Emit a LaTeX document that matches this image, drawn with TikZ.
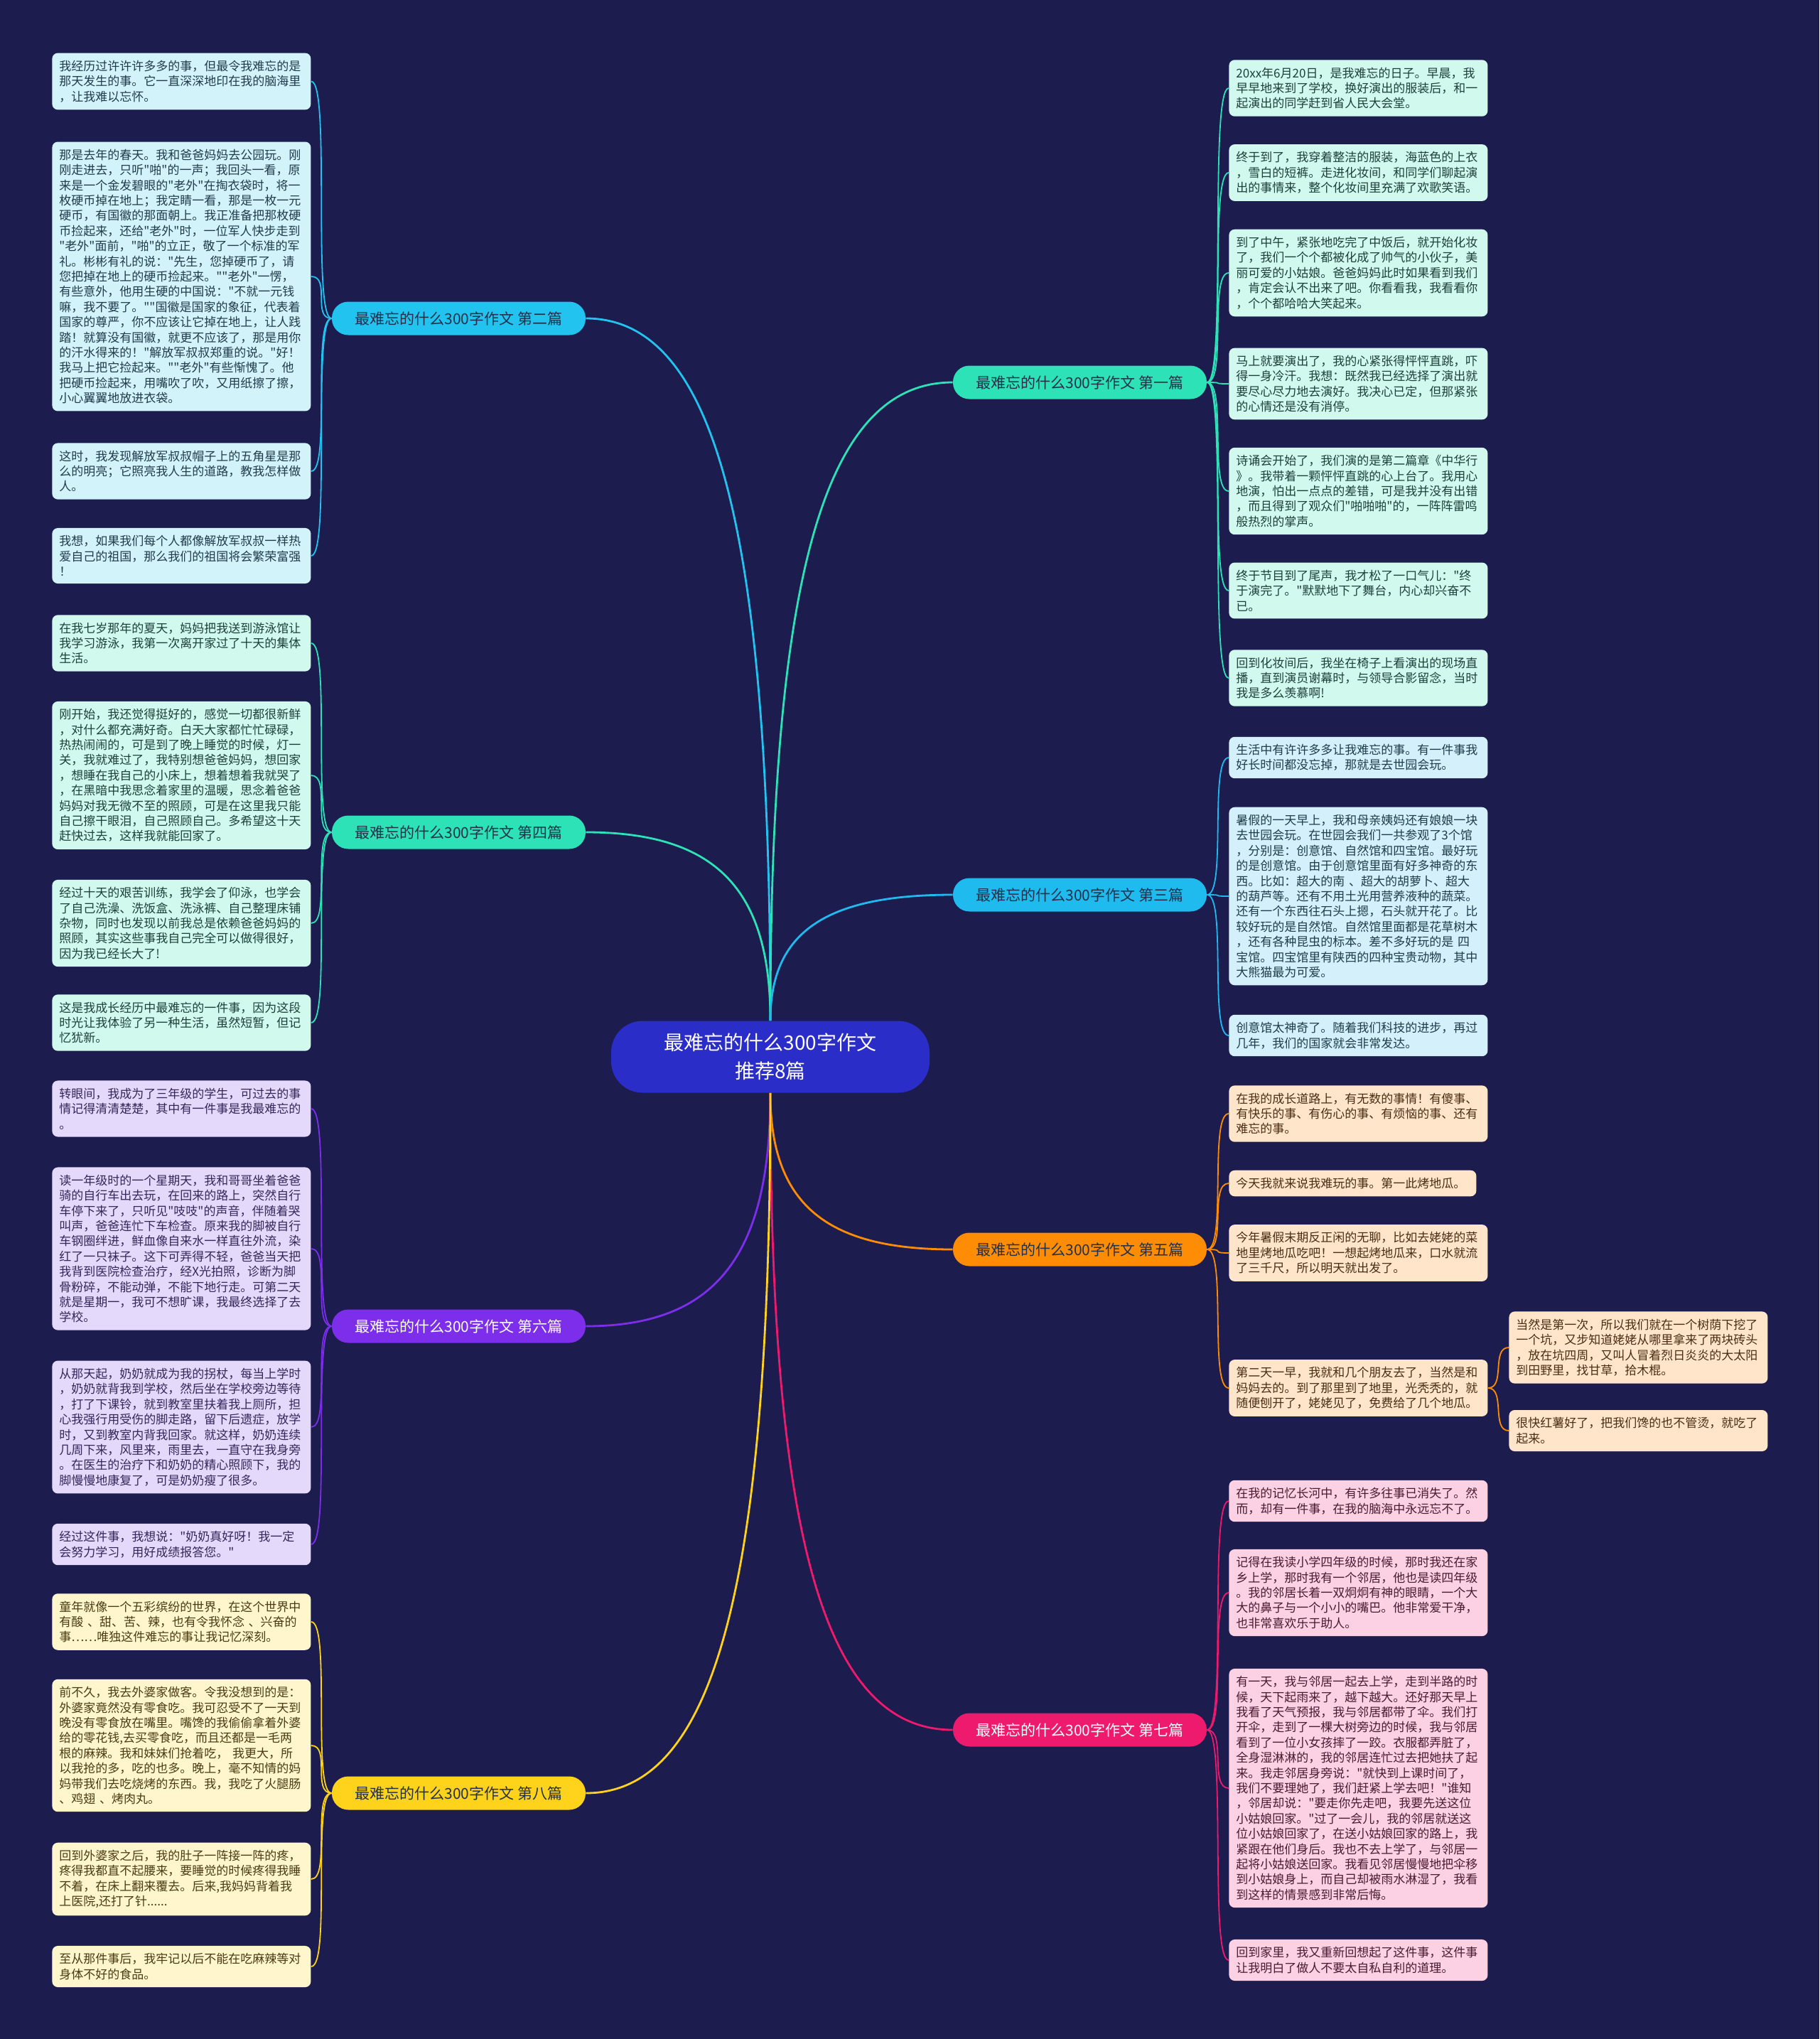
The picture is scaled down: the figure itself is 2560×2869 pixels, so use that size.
\documentclass[tikz,border=0pt]{standalone}
\usepackage{fontspec}
\newfontfamily\cjk{Noto Sans CJK SC}
\definecolor{bg}{HTML}{1C1C4E}
\definecolor{cen}{HTML}{2B2DC8}
\definecolor{cyanA}{HTML}{22C3EE}
\definecolor{cyanL}{HTML}{D3F3FB}
\definecolor{cyanT}{HTML}{1E3C4A}
\definecolor{cyanB}{HTML}{1FBBEF}
\definecolor{cyanBL}{HTML}{D3F0FB}
\definecolor{mintA}{HTML}{2CE2B6}
\definecolor{mintL}{HTML}{D1F9EE}
\definecolor{mintT}{HTML}{1D4038}
\definecolor{purA}{HTML}{7C2EEA}
\definecolor{purL}{HTML}{E4D9FA}
\definecolor{purT}{HTML}{35265A}
\definecolor{yelA}{HTML}{FFD21C}
\definecolor{yelL}{HTML}{FFF6CE}
\definecolor{yelT}{HTML}{4A3C10}
\definecolor{oraA}{HTML}{FF8C05}
\definecolor{oraL}{HTML}{FFE6CB}
\definecolor{oraT}{HTML}{4A2E12}
\definecolor{pinA}{HTML}{EE1A6E}
\definecolor{pinL}{HTML}{FCD1E4}
\definecolor{pinT}{HTML}{4A1A30}
\definecolor{pillT}{HTML}{23304A}
\begin{document}
\begin{tikzpicture}[x=0.5pt,y=-0.5pt,
  leaf/.style={rounded corners=4pt, anchor=west, text width=172pt, inner xsep=5pt, inner ysep=5.2pt, align=left, font=\cjk\fontsize{8.5}{10.7}\selectfont},
  pill/.style={rounded corners=11.5pt, minimum width=178.5pt, minimum height=23.5pt, inner sep=0pt, font=\cjk\fontsize{10.5}{12}\selectfont},
  cnode/.style={fill=cen, text=white, rounded corners=22pt, minimum width=224pt, minimum height=50.5pt, align=center, font=\cjk\fontsize{14}{20}\selectfont},
  lf2/.style={leaf, fill=cyanL, text=cyanT},
  lf3/.style={leaf, fill=cyanBL, text=cyanT},
  lf1/.style={leaf, fill=mintL, text=mintT},
  lf4/.style={leaf, fill=mintL, text=mintT},
  lf6/.style={leaf, fill=purL, text=purT},
  lf8/.style={leaf, fill=yelL, text=yelT},
  lf5/.style={leaf, fill=oraL, text=oraT},
  lf7/.style={leaf, fill=pinL, text=pinT},
  trunk/.style={line width=1.4pt},
  twig/.style={line width=0.9pt}]
\fill[bg] (0,0) rectangle (2560,2869);

\node[cnode] (c) at (1084,1487) {最难忘的什么300字作文\\推荐8篇};

\node[pill, fill=cyanA, text=pillT] (b2) at (645.5,448) {最难忘的什么300字作文 第二篇};
\node[pill, fill=mintA, text=pillT] (b4) at (645.5,1171) {最难忘的什么300字作文 第四篇};
\node[pill, fill=purA, text=white] (b6) at (645.5,1866) {最难忘的什么300字作文 第六篇};
\node[pill, fill=yelA, text=pillT] (b8) at (645.5,2523) {最难忘的什么300字作文 第八篇};
\node[pill, fill=mintA, text=pillT] (b1) at (1519.5,538) {最难忘的什么300字作文 第一篇};
\node[pill, fill=cyanB, text=pillT] (b3) at (1519.5,1259) {最难忘的什么300字作文 第三篇};
\node[pill, fill=oraA, text=pillT] (b5) at (1519.5,1758) {最难忘的什么300字作文 第五篇};
\node[pill, fill=pinA, text=white] (b7) at (1519.5,2434) {最难忘的什么300字作文 第七篇};

% left leaves
\node[lf2] (L1) at (73,114.5) {我经历过许许许多多的事，但最令我难忘的是\\那天发生的事。它一直深深地印在我的脑海里\\，让我难以忘怀。};
\node[lf2] (L2) at (73,389) {那是去年的春天。我和爸爸妈妈去公园玩。刚\\刚走进去，只听"啪"的一声；我回头一看，原\\来是一个金发碧眼的"老外"在掏衣袋时，将一\\枚硬币掉在地上；我定睛一看，那是一枚一元\\硬币，有国徽的那面朝上。我正准备把那枚硬\\币捡起来，还给"老外"时，一位军人快步走到\\"老外"面前，"啪"的立正，敬了一个标准的军\\礼。彬彬有礼的说："先生，您掉硬币了，请\\您把掉在地上的硬币捡起来。""老外"一愣，\\有些意外，他用生硬的中国说："不就一元钱\\嘛，我不要了。""国徽是国家的象征，代表着\\国家的尊严，你不应该让它掉在地上，让人践\\踏！就算没有国徽，就更不应该了，那是用你\\的汗水得来的！"解放军叔叔郑重的说。"好！\\我马上把它捡起来。""老外"有些惭愧了。他\\把硬币捡起来，用嘴吹了吹，又用纸擦了擦，\\小心翼翼地放进衣袋。};
\node[lf2] (L3) at (73,663) {这时，我发现解放军叔叔帽子上的五角星是那\\么的明亮；它照亮我人生的道路，教我怎样做\\人。};
\node[lf2] (L4) at (73,782) {我想，如果我们每个人都像解放军叔叔一样热\\爱自己的祖国，那么我们的祖国将会繁荣富强\\！};

\node[lf4] (L5) at (73,905) {在我七岁那年的夏天，妈妈把我送到游泳馆让\\我学习游泳，我第一次离开家过了十天的集体\\生活。};
\node[lf4] (L6) at (73,1091) {刚开始，我还觉得挺好的，感觉一切都很新鲜\\，对什么都充满好奇。白天大家都忙忙碌碌，\\热热闹闹的，可是到了晚上睡觉的时候，灯一\\关，我就难过了，我特别想爸爸妈妈，想回家\\，想睡在我自己的小床上，想着想着我就哭了\\，在黑暗中我思念着家里的温暖，思念着爸爸\\妈妈对我无微不至的照顾，可是在这里我只能\\自己擦干眼泪，自己照顾自己。多希望这十天\\赶快过去，这样我就能回家了。};
\node[lf4] (L7) at (73,1299) {经过十天的艰苦训练，我学会了仰泳，也学会\\了自己洗澡、洗饭盒、洗泳裤、自己整理床铺\\杂物，同时也发现以前我总是依赖爸爸妈妈的\\照顾，其实这些事我自己完全可以做得很好，\\因为我已经长大了!};
\node[lf4] (L8) at (73,1439) {这是我成长经历中最难忘的一件事，因为这段\\时光让我体验了另一种生活，虽然短暂，但记\\忆犹新。};

\node[lf6] (L9) at (73,1560) {转眼间，我成为了三年级的学生，可过去的事\\情记得清清楚楚，其中有一件事是我最难忘的\\。};
\node[lf6] (L10) at (73,1757) {读一年级时的一个星期天，我和哥哥坐着爸爸\\骑的自行车出去玩，在回来的路上，突然自行\\车停下来了，只听见"吱吱"的声音，伴随着哭\\叫声，爸爸连忙下车检查。原来我的脚被自行\\车钢圈绊进，鲜血像自来水一样直往外流，染\\红了一只袜子。这下可弄得不轻，爸爸当天把\\我背到医院检查治疗，经X光拍照，诊断为脚\\骨粉碎，不能动弹，不能下地行走。可第二天\\就是星期一，我可不想旷课，我最终选择了去\\学校。};
\node[lf6] (L11) at (73,2008) {从那天起，奶奶就成为我的拐杖，每当上学时\\，奶奶就背我到学校，然后坐在学校旁边等待\\，打了下课铃，就到教室里扶着我上厕所，担\\心我强行用受伤的脚走路，留下后遗症，放学\\时，又到教室内背我回家。就这样，奶奶连续\\几周下来，风里来，雨里去，一直守在我身旁\\。在医生的治疗下和奶奶的精心照顾下，我的\\脚慢慢地康复了，可是奶奶瘦了很多。};
\node[lf6] (L12) at (73,2173) {经过这件事，我想说："奶奶真好呀！我一定\\会努力学习，用好成绩报答您。"};

\node[lf8] (L13) at (73,2282) {童年就像一个五彩缤纷的世界，在这个世界中\\有酸~、甜、苦、辣，也有令我怀念~、兴奋的\\事……唯独这件难忘的事让我记忆深刻。};
\node[lf8] (L14) at (73,2456) {前不久，我去外婆家做客。令我没想到的是：\\外婆家竟然没有零食吃。我可忍受不了一天到\\晚没有零食放在嘴里。嘴馋的我偷偷拿着外婆\\给的零花钱,去买零食吃，而且还都是一毛两\\根的麻辣。我和妹妹们抢着吃，~我更大，所\\以我抢的多，吃的也多。晚上，毫不知情的妈\\妈带我们去吃烧烤的东西。我，我吃了火腿肠\\、鸡翅~、烤肉丸。};
\node[lf8] (L15) at (73,2644) {回到外婆家之后，我的肚子一阵接一阵的疼，\\疼得我都直不起腰来，要睡觉的时候疼得我睡\\不着，在床上翻来覆去。后来,我妈妈背着我\\上医院,还打了针......};
\node[lf8] (L16) at (73,2767) {至从那件事后，我牢记以后不能在吃麻辣等对\\身体不好的食品。};

% right leaves
\node[lf1] (R1) at (1729,124) {20xx年6月20日，是我难忘的日子。早晨，我\\早早地来到了学校，换好演出的服装后，和一\\起演出的同学赶到省人民大会堂。};
\node[lf1] (R2) at (1729,243) {终于到了，我穿着整洁的服装，海蓝色的上衣\\，雪白的短裤。走进化妆间，和同学们聊起演\\出的事情来，整个化妆间里充满了欢歌笑语。};
\node[lf1] (R3) at (1729,384) {到了中午，紧张地吃完了中饭后，就开始化妆\\了，我们一个个都被化成了帅气的小伙子，美\\丽可爱的小姑娘。爸爸妈妈此时如果看到我们\\，肯定会认不出来了吧。你看看我，我看看你\\，个个都哈哈大笑起来。};
\node[lf1] (R4) at (1729,540) {马上就要演出了，我的心紧张得怦怦直跳，吓\\得一身冷汗。我想：既然我已经选择了演出就\\要尽心尽力地去演好。我决心已定，但那紧张\\的心情还是没有消停。};
\node[lf1] (R5) at (1729,691) {诗诵会开始了，我们演的是第二篇章《中华行\\》。我带着一颗怦怦直跳的心上台了。我用心\\地演，怕出一点点的差错，可是我并没有出错\\，而且得到了观众们"啪啪啪"的，一阵阵雷鸣\\般热烈的掌声。};
\node[lf1] (R6) at (1729,831) {终于节目到了尾声，我才松了一口气儿："终\\于演完了。"默默地下了舞台，内心却兴奋不\\已。};
\node[lf1] (R7) at (1729,954) {回到化妆间后，我坐在椅子上看演出的现场直\\播，直到演员谢幕时，与领导合影留念，当时\\我是多么羡慕啊!};

\node[lf3] (R8) at (1729,1066) {生活中有许许多多让我难忘的事。有一件事我\\好长时间都没忘掉，那就是去世园会玩。};
\node[lf3] (R9) at (1729,1261) {暑假的一天早上，我和母亲姨妈还有娘娘一块\\去世园会玩。在世园会我们一共参观了3个馆\\，分别是：创意馆、自然馆和四宝馆。最好玩\\的是创意馆。由于创意馆里面有好多神奇的东\\西。比如：超大的南~、超大的胡萝卜、超大\\的葫芦等。还有不用土光用营养液种的蔬菜。\\还有一个东西往石头上摁，石头就开花了。比\\较好玩的是自然馆。自然馆里面都是花草树木\\，还有各种昆虫的标本。差不多好玩的是~四\\宝馆。四宝馆里有陕西的四种宝贵动物，其中\\大熊猫最为可爱。};
\node[lf3] (R10) at (1729,1457) {创意馆太神奇了。随着我们科技的进步，再过\\几年，我们的国家就会非常发达。};

\node[lf5] (R11) at (1729,1567) {在我的成长道路上，有无数的事情！有傻事、\\有快乐的事、有伤心的事、有烦恼的事、还有\\难忘的事。};
\node[lf5, text width=164pt] (R12) at (1729,1665) {今天我就来说我难玩的事。第一此烤地瓜。};
\node[lf5] (R13) at (1729,1763) {今年暑假末期反正闲的无聊，比如去姥姥的菜\\地里烤地瓜吃吧！一想起烤地瓜来，口水就流\\了三千尺，所以明天就出发了。};
\node[lf5] (R14) at (1729,1953) {第二天一早，我就和几个朋友去了，当然是和\\妈妈去的。到了那里到了地里，光秃秃的，就\\随便刨开了，姥姥见了，免费给了几个地瓜。};
\node[lf5] (R15) at (2123,1896) {当然是第一次，所以我们就在一个树荫下挖了\\一个坑，又步知道姥姥从哪里拿来了两块砖头\\，放在坑四周，又叫人冒着烈日炎炎的大太阳\\到田野里，找甘草，拾木棍。};
\node[lf5] (R16) at (2123,2013) {很快红薯好了，把我们馋的也不管烫，就吃了\\起来。};

\node[lf7] (R17) at (1729,2112) {在我的记忆长河中，有许多往事已消失了。然\\而，却有一件事，在我的脑海中永远忘不了。};
\node[lf7] (R18) at (1729,2241) {记得在我读小学四年级的时候，那时我还在家\\乡上学，那时我有一个邻居，他也是读四年级\\。我的邻居长着一双炯炯有神的眼睛，一个大\\大的鼻子与一个小小的嘴巴。他非常爱干净，\\也非常喜欢乐于助人。};
\node[lf7] (R19) at (1729,2516) {有一天，我与邻居一起去上学，走到半路的时\\候，天下起雨来了，越下越大。还好那天早上\\我看了天气预报，我与邻居都带了伞。我们打\\开伞，走到了一棵大树旁边的时候，我与邻居\\看到了一位小女孩摔了一跤。衣服都弄脏了，\\全身湿淋淋的，我的邻居连忙过去把她扶了起\\来。我走邻居身旁说："就快到上课时间了，\\我们不要理她了，我们赶紧上学去吧！"谁知\\，邻居却说："要走你先走吧，我要先送这位\\小姑娘回家。"过了一会儿，我的邻居就送这\\位小姑娘回家了，在送小姑娘回家的路上，我\\紧跟在他们身后。我也不去上学了，与邻居一\\起将小姑娘送回家。我看见邻居慢慢地把伞移\\到小姑娘身上，而自己却被雨水淋湿了，我看\\到这样的情景感到非常后悔。};
\node[lf7] (R20) at (1729,2758) {回到家里，我又重新回想起了这件事，这件事\\让我明白了做人不要太自私自利的道理。};

% trunk connectors
\draw[trunk, cyanA] (c.north) .. controls +(0,-692) and +(182,0) .. (b2.east);
\draw[trunk, mintA] (c.north) .. controls +(0,-186) and +(182,0) .. (b4.east);
\draw[trunk, mintA] (c.north) .. controls +(0,-629) and +(-180,0) .. (b1.west);
\draw[trunk, cyanB] (c.north) .. controls +(0,-124) and +(-180,0) .. (b3.west);
\draw[trunk, oraA] (c.south) .. controls +(0,155) and +(-180,0) .. (b5.west);
\draw[trunk, purA] (c.south) .. controls +(0,230) and +(182,0) .. (b6.east);
\draw[trunk, pinA] (c.south) .. controls +(0,628) and +(-180,0) .. (b7.west);
\draw[trunk, yelA] (c.south) .. controls +(0,690) and +(182,0) .. (b8.east);

% twig connectors
\foreach \n in {L1,L2,L3,L4} \draw[twig, cyanA] (b2.west) .. controls +(-28,0) and +(28,0) .. (\n.east);
\foreach \n in {L5,L6,L7,L8} \draw[twig, mintA] (b4.west) .. controls +(-28,0) and +(28,0) .. (\n.east);
\foreach \n in {L9,L10,L11,L12} \draw[twig, purA] (b6.west) .. controls +(-28,0) and +(28,0) .. (\n.east);
\foreach \n in {L13,L14,L15,L16} \draw[twig, yelA] (b8.west) .. controls +(-28,0) and +(28,0) .. (\n.east);
\foreach \n in {R1,R2,R3,R4,R5,R6,R7} \draw[twig, mintA] (b1.east) .. controls +(28,0) and +(-28,0) .. (\n.west);
\foreach \n in {R8,R9,R10} \draw[twig, cyanB] (b3.east) .. controls +(28,0) and +(-28,0) .. (\n.west);
\foreach \n in {R11,R12,R13,R14} \draw[twig, oraA] (b5.east) .. controls +(28,0) and +(-28,0) .. (\n.west);
\foreach \n in {R15,R16} \draw[twig, oraA] (R14.east) .. controls +(25,0) and +(-25,0) .. (\n.west);
\foreach \n in {R17,R18,R19,R20} \draw[twig, pinA] (b7.east) .. controls +(28,0) and +(-28,0) .. (\n.west);
\end{tikzpicture}
\end{document}
